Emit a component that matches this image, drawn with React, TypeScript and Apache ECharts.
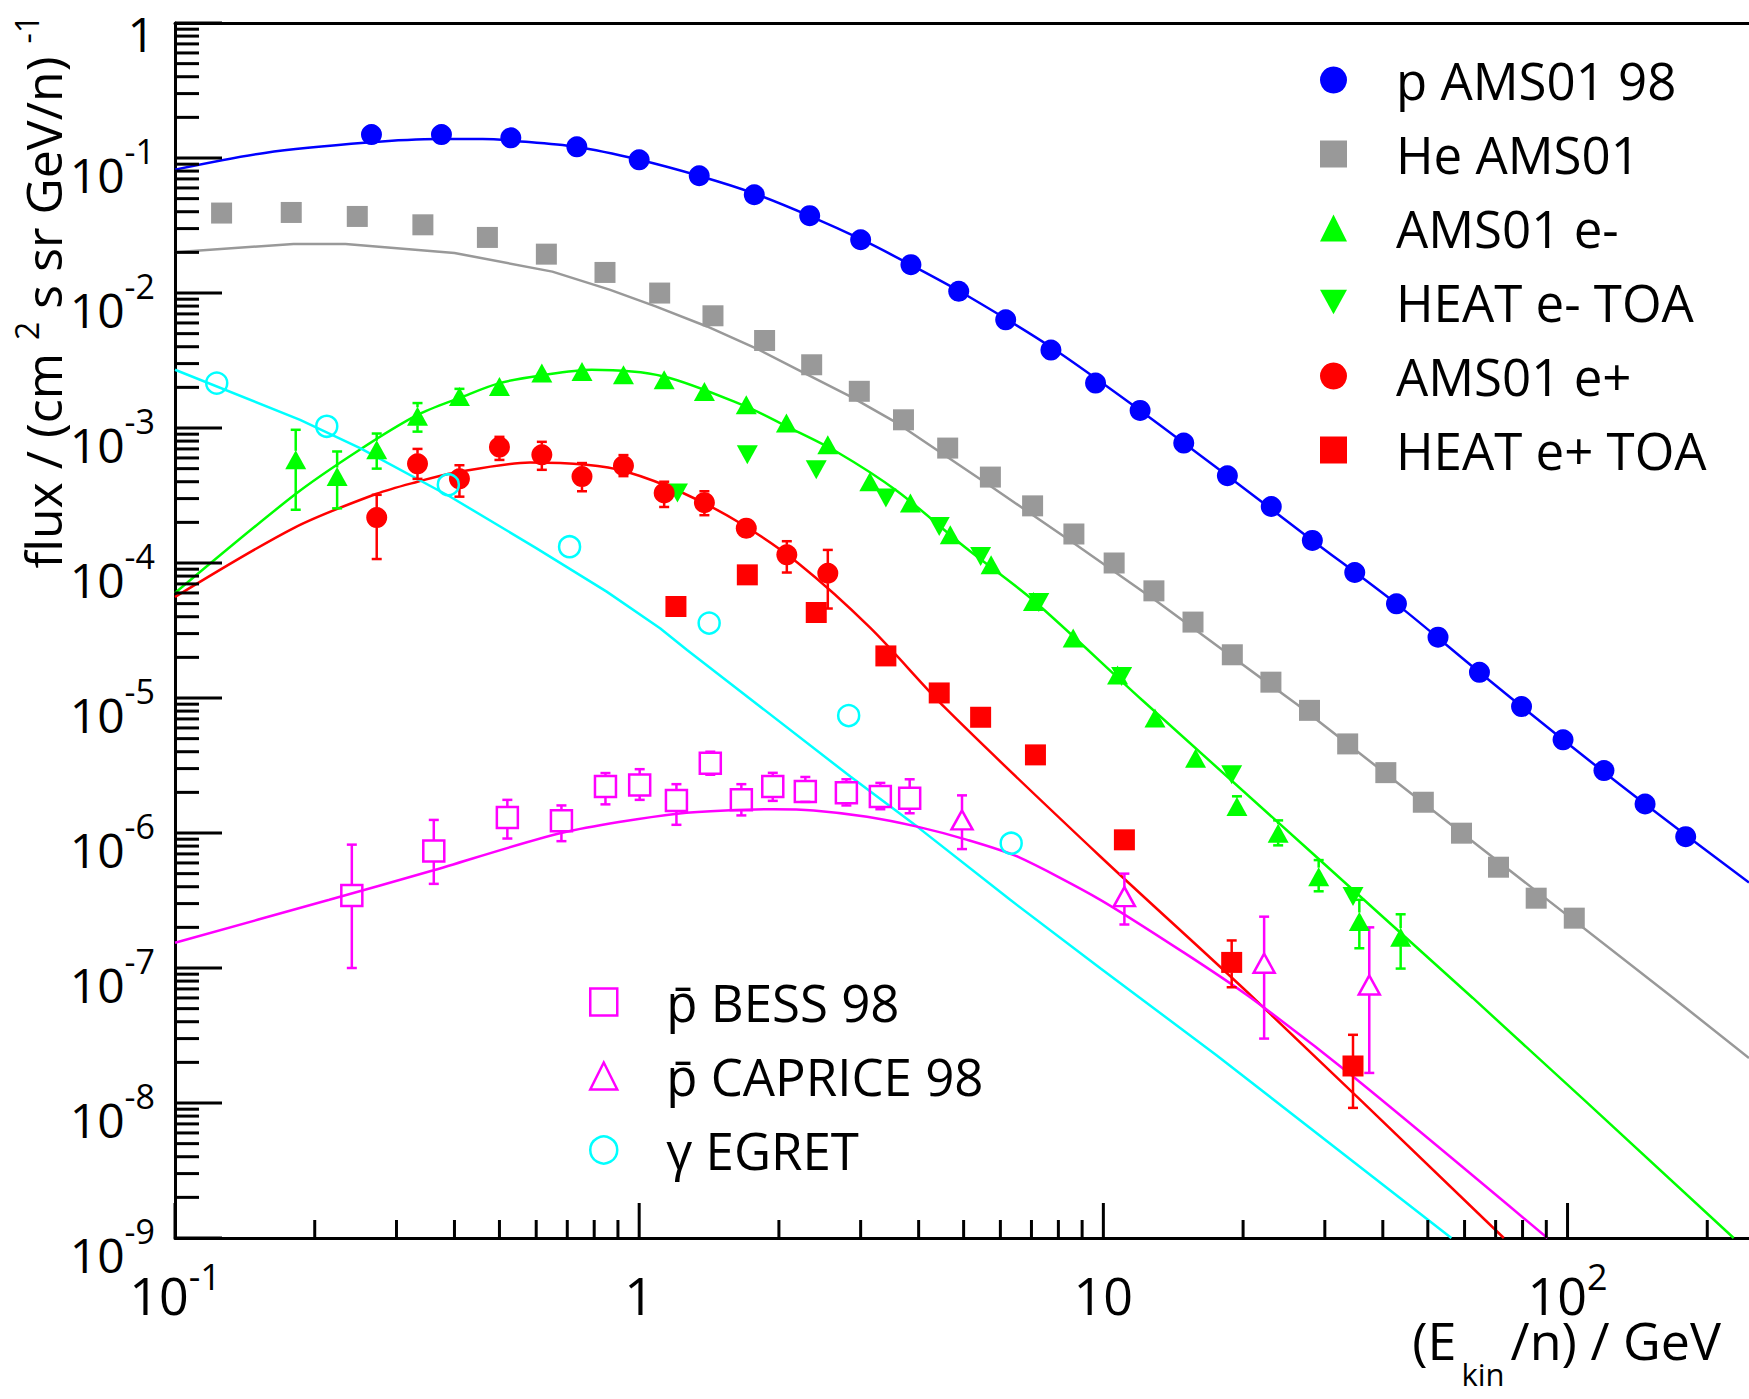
import React, { useEffect, useRef } from "react";
import * as echarts from "echarts";

const FONT = "'Open Sans', 'Noto Sans', 'DejaVu Sans', sans-serif";

// ---------- data points ----------
// p AMS01 98
const pE = [0.265, 0.375, 0.529, 0.734, 1.0, 1.347, 1.77, 2.33, 3.0, 3.85, 4.88, 6.16, 7.71, 9.62, 12.0, 14.9, 18.5, 23.0, 28.2, 34.8, 42.8, 52.6, 64.6, 79.6, 97.8, 119.8, 146.9, 179.7];
const pF = [0.149, 0.149, 0.141, 0.121, 0.097, 0.0739, 0.0534, 0.0374, 0.0248, 0.0162, 0.0103, 0.00633, 0.00378, 0.00215, 0.00135, 7.73e-4, 4.43e-4, 2.62e-4, 1.47e-4, 8.5e-5, 4.98e-5, 2.82e-5, 1.55e-5, 8.64e-6, 4.9e-6, 2.9e-6, 1.64e-6, 9.4e-7];

// He AMS01
const heE = [0.126, 0.178, 0.247, 0.342, 0.471, 0.631, 0.844, 1.107, 1.442, 1.863, 2.353, 2.98, 3.71, 4.62, 5.71, 7.04, 8.64, 10.55, 12.85, 15.6, 18.96, 22.96, 27.8, 33.6, 40.6, 48.9, 59.1, 71.0, 85.6, 103.4];
const heF = [0.0391, 0.0395, 0.0369, 0.032, 0.0258, 0.0194, 0.0142, 0.00999, 0.00678, 0.00445, 0.00294, 0.00187, 0.00115, 7.1e-4, 4.33e-4, 2.65e-4, 1.64e-4, 1.0e-4, 6.22e-5, 3.65e-5, 2.09e-5, 1.31e-5, 8.1e-6, 4.57e-6, 2.8e-6, 1.69e-6, 9.97e-7, 5.58e-7, 3.29e-7, 2.34e-7];

// AMS01 e-
const emE = [0.182, 0.2235, 0.272, 0.333, 0.41, 0.5, 0.617, 0.753, 0.925, 1.132, 1.382, 1.701, 2.076, 2.549, 3.14, 3.84, 4.68, 5.73, 7.07, 8.61, 10.73, 12.92, 15.8, 19.4, 23.8, 29.1, 35.6, 43.7];
const emF = [5.81e-4, 4.37e-4, 6.9e-4, 1.22e-3, 1.71e-3, 2.03e-3, 2.55e-3, 2.62e-3, 2.48e-3, 2.28e-3, 1.865e-3, 1.486e-3, 1.087e-3, 7.51e-4, 4.0e-4, 2.78e-4, 1.62e-4, 9.7e-5, 5.18e-5, 2.78e-5, 1.48e-5, 7.1e-6, 3.58e-6, 1.57e-6, 9.97e-7, 4.75e-7, 2.21e-7, 1.69e-7];
const emLo = [2.48e-4, 2.54e-4, 5.0e-4, 9.4e-4, 1.5e-3, null, null, null, null, null, null, null, null, null, null, null, null, null, null, null, null, null, null, 1.37e-6, 8.1e-7, 3.7e-7, 1.4e-7, 9.9e-8];
const emHi = [9.7e-4, 6.7e-4, 9.1e-4, 1.53e-3, 1.95e-3, null, null, null, null, null, null, null, null, null, null, null, null, null, null, null, null, null, null, 1.87e-6, 1.24e-6, 6.3e-7, 3.2e-7, 2.5e-7];

// HEAT e- TOA
const heatEmE = [1.209, 1.71, 2.407, 3.4, 4.43, 5.44, 7.26, 10.95, 18.9, 34.5];
const heatEmF = [3.3e-4, 6.33e-4, 4.9e-4, 3.03e-4, 1.86e-4, 1.117e-4, 5.1e-5, 1.44e-5, 2.7e-6, 3.38e-7];

// AMS01 e+
const epE = [0.272, 0.333, 0.41, 0.5, 0.617, 0.753, 0.925, 1.132, 1.382, 1.701, 2.08, 2.549];
const epF = [2.17e-4, 5.43e-4, 4.2e-4, 7.22e-4, 6.33e-4, 4.37e-4, 5.25e-4, 3.3e-4, 2.8e-4, 1.81e-4, 1.15e-4, 8.4e-5];
const epLo = [1.07e-4, 4.2e-4, 3.1e-4, 5.8e-4, 4.9e-4, 3.4e-4, 4.4e-4, 2.6e-4, 2.26e-4, 1.65e-4, 8.5e-5, 4.6e-5];
const epHi = [3.2e-4, 7.0e-4, 5.3e-4, 8.6e-4, 7.9e-4, 5.5e-4, 6.3e-4, 4.0e-4, 3.4e-4, 1.98e-4, 1.45e-4, 1.25e-4];

// HEAT e+ TOA
const heatEpE = [1.2, 1.71, 2.407, 3.4, 4.43, 5.44, 7.14, 11.1, 18.9, 34.5];
const heatEpF = [4.76e-5, 8.17e-5, 4.3e-5, 2.05e-5, 1.09e-5, 7.2e-6, 3.79e-6, 8.9e-7, 1.1e-7, 1.88e-8];
const heatEpLo = [null, null, null, null, null, null, null, null, 7.2e-8, 9.2e-9];
const heatEpHi = [null, null, null, null, null, null, null, null, 1.6e-7, 3.2e-8];

// pbar BESS 98
const bessE = [0.2404, 0.361, 0.52, 0.68, 0.846, 1.0025, 1.203, 1.423, 1.66, 1.94, 2.28, 2.795, 3.308, 3.826];
const bessF = [3.44e-7, 7.37e-7, 1.3e-6, 1.23e-6, 2.21e-6, 2.27e-6, 1.74e-6, 3.29e-6, 1.76e-6, 2.21e-6, 2.03e-6, 1.99e-6, 1.86e-6, 1.81e-6];
const bessLo = [1.0e-7, 4.2e-7, 9.1e-7, 8.7e-7, 1.63e-6, 1.76e-6, 1.15e-6, 2.7e-6, 1.35e-6, 1.73e-6, 1.7e-6, 1.6e-6, 1.5e-6, 1.4e-6];
const bessHi = [8.2e-7, 1.25e-6, 1.76e-6, 1.6e-6, 2.78e-6, 2.97e-6, 2.3e-6, 4.0e-6, 2.3e-6, 2.79e-6, 2.6e-6, 2.5e-6, 2.35e-6, 2.5e-6];

// pbar CAPRICE 98
const capE = [4.96, 11.1, 22.2, 37.4];
const capF = [1.25e-6, 3.38e-7, 1.085e-7, 7.49e-8];
const capLo = [7.6e-7, 2.1e-7, 3.0e-8, 1.67e-8];
const capHi = [1.9e-6, 5.0e-7, 2.4e-7, 2.0e-7];

// gamma EGRET
const egE = [0.123, 0.2123, 0.388, 0.708, 1.415, 2.827, 6.33];
const egF = [2.15e-3, 1.03e-3, 3.8e-4, 1.32e-4, 3.59e-5, 7.41e-6, 8.4e-7];

// ---------- model curves ----------
const pModE = [0.1, 0.156, 0.26, 0.37, 0.46, 0.55, 0.73, 1.0, 1.36, 1.76, 2.34, 3.02, 3.91, 5.05, 7.69, 12, 18.5, 28.2, 42.8, 64.6, 97.8, 146.9, 246];
const pModF = [0.082, 0.109, 0.13, 0.138, 0.138, 0.133, 0.121, 0.097, 0.073, 0.055, 0.037, 0.0248, 0.0157, 0.0097, 0.004, 0.00135, 4.43e-4, 1.47e-4, 4.98e-5, 1.55e-5, 4.9e-6, 1.64e-6, 4.29e-7];

const heModE = [0.1, 0.18, 0.233, 0.4, 0.65, 0.863, 1.085, 1.4, 1.81, 2.27, 2.855, 3.59, 5.73, 8.64, 13.05, 18.9, 26.2, 169, 246];
const heModF = [0.02, 0.0231, 0.0231, 0.0198, 0.0144, 0.0106, 0.00795, 0.00565, 0.0038, 0.00255, 0.00171, 0.00109, 3.69e-4, 1.4e-4, 5.18e-5, 2.03e-5, 8.9e-6, 6.0e-8, 2.15e-8];

const emModE = [0.1, 0.181, 0.25, 0.333, 0.412, 0.5, 0.614, 0.79, 1.13, 1.701, 2.076, 2.657, 3.6, 5.06, 7.04, 12.1, 62.5, 228];
const emModF = [6.0e-5, 3.2e-4, 6.9e-4, 1.25e-3, 1.68e-3, 2.15e-3, 2.45e-3, 2.7e-3, 2.41e-3, 1.44e-3, 1.03e-3, 6.7e-4, 3.4e-4, 1.29e-4, 5.34e-5, 9.7e-6, 6.0e-8, 1.0e-9];

const epModE = [0.1, 0.181, 0.272, 0.333, 0.398, 0.582, 0.769, 0.935, 1.243, 1.652, 2.198, 3.152, 4.57, 9.85, 21.06, 72.9];
const epModF = [5.6e-5, 1.83e-4, 3.26e-4, 4.0e-4, 4.65e-4, 5.55e-4, 5.34e-4, 4.76e-4, 3.3e-4, 1.97e-4, 1.0e-4, 3.29e-5, 8.4e-6, 6.7e-7, 6.0e-8, 1.0e-9];

const gModE = [0.1, 0.186, 0.2505, 0.391, 0.6, 0.851, 1.109, 1.268, 2.851, 3.97, 6.3, 9.85, 17.5, 56.2];
const gModF = [2.7e-3, 1.15e-3, 7.1e-4, 3.11e-4, 1.29e-4, 6.14e-5, 3.29e-5, 2.27e-5, 2.62e-6, 1.115e-6, 3.2e-7, 9.96e-8, 2.27e-8, 1.0e-9];

const pbModE = [0.1, 0.215, 0.359, 0.679, 1.207, 1.949, 2.376, 3.097, 3.97, 5.09, 6.52, 9.85, 14.86, 20.6, 34.5, 90.5];
const pbModF = [1.54e-7, 3.2e-7, 5.27e-7, 1.0e-6, 1.39e-6, 1.5e-6, 1.47e-6, 1.32e-6, 1.115e-6, 8.9e-7, 6.7e-7, 3.2e-7, 1.31e-7, 6.14e-8, 1.57e-8, 1.0e-9];

// ---------- axes ----------
const X_MIN = 0.1;
const X_MAX = 246;
const Y_MIN = 1e-9;
const Y_MAX = 1;
const X_MAJOR = [0.1, 1, 10, 100];
const Y_MAJOR = [1e-9, 1e-8, 1e-7, 1e-6, 1e-5, 1e-4, 1e-3, 1e-2, 1e-1, 1];
const MINOR_MULT = [2, 3, 4, 5, 6, 7, 8, 9];

const BLUE = "#0000ff";
const GRAY = "#999999";
const GREEN = "#00ff00";
const RED = "#ff0000";
const MAGENTA = "#ff00ff";
const CYAN = "#00ffff";

const zip = (xs: number[], ys: number[]) => xs.map((x, i) => [x, ys[i]]);
const errZip = (xs: number[], ys: number[], lo: (number | null)[], hi: (number | null)[]) =>
  xs.map((x, i) => [x, ys[i], lo[i], hi[i]]).filter((d) => d[2] != null);

function expLabel(v: number, big: string, sup: string, one: string) {
  const l = Math.log10(v);
  const e = Math.round(l);
  if (Math.abs(l - e) > 1e-6) return "";
  if (e === 0) return `{${one}|1}`;
  if (e === 1) return `{${big}|10}`;
  return `{${big}|10}{${sup}|${e}}`;
}

function lineSeries(name: string, xs: number[], ys: number[], color: string, smooth: number | boolean) {
  return {
    name,
    type: "line",
    data: zip(xs, ys),
    symbol: "none",
    smooth,
    clip: true,
    silent: true,
    lineStyle: { color, width: 2.5 },
    z: 2,
  };
}

function errSeries(data: any[], color: string, half: number) {
  return {
    type: "custom",
    silent: true,
    data,
    encode: { x: 0, y: 1 },
    z: 3,
    renderItem: (params: any, api: any) => {
      const x = api.value(0);
      const c = api.coord([x, api.value(1)]);
      const lo = api.coord([x, api.value(2)]);
      const hi = api.coord([x, api.value(3)]);
      const style = { stroke: color, lineWidth: 2.5 };
      const ch: any[] = [];
      if (hi[1] < c[1] - half) ch.push({ type: "line", shape: { x1: c[0], y1: hi[1], x2: c[0], y2: c[1] - half }, style });
      if (lo[1] > c[1] + half) ch.push({ type: "line", shape: { x1: c[0], y1: c[1] + half, x2: c[0], y2: lo[1] }, style });
      ch.push({ type: "line", shape: { x1: c[0] - 5, y1: hi[1], x2: c[0] + 5, y2: hi[1] }, style });
      ch.push({ type: "line", shape: { x1: c[0] - 5, y1: lo[1], x2: c[0] + 5, y2: lo[1] }, style });
      return { type: "group", children: ch };
    },
  };
}

function scatter(name: string, xs: number[], ys: number[], symbol: string, size: any, itemStyle: any) {
  return {
    name,
    type: "scatter",
    data: zip(xs, ys),
    symbol,
    symbolSize: size,
    itemStyle: { opacity: 1, ...itemStyle },
    silent: true,
    z: 4,
  };
}

const DOWN_TRI = "path://M0,0L20,0L10,18Z";
const OPEN = (c: string) => ({ color: "rgba(0,0,0,0)", borderColor: c, borderWidth: 2.5 });

export default function App() {
  const ref = useRef<HTMLDivElement>(null);
  useEffect(() => {
    if (!ref.current) return;
    const chart = echarts.init(ref.current, null, { renderer: "svg" });

    const yTicks: number[][] = [];
    Y_MAJOR.forEach((m, i) => {
      yTicks.push([X_MIN, m, 1]);
      if (i < Y_MAJOR.length - 1) MINOR_MULT.forEach((k) => yTicks.push([X_MIN, k * m, 0]));
    });
    const xTicks: number[][] = [];
    X_MAJOR.forEach((m) => {
      xTicks.push([m, Y_MIN, 1]);
      MINOR_MULT.forEach((k) => {
        if (k * m <= X_MAX) xTicks.push([k * m, Y_MIN, 0]);
      });
    });

    const axisLine = { show: true, lineStyle: { color: "#000", width: 3 } };
    const legendText = { fontSize: 51, fontFamily: FONT, color: "#000", lineHeight: 52, padding: [0, 0, 0, 44] };

    const option: any = {
      animation: false,
      backgroundColor: "#fff",
      textStyle: { fontFamily: FONT },
      grid: { left: 175, right: 0, top: 23, bottom: 161, containLabel: false, outerBoundsMode: "none" },
      xAxis: [
        {
          type: "log",
          logBase: 10,
          min: X_MIN,
          max: X_MAX,
          axisLine,
          axisTick: { show: false },
          splitLine: { show: false },
          minorTick: { show: false },
          axisLabel: {
            margin: 18,
            color: "#000",
            fontFamily: FONT,
            formatter: (v: number) => expLabel(v, "bx", "sx", "bx"),
            rich: {
              bx: { fontSize: 52, fontFamily: FONT, color: "#000", lineHeight: 44, padding: [33, 0, 0, 0] },
              sx: { fontSize: 36, fontFamily: FONT, color: "#000", lineHeight: 38, padding: [18, 0, 21, 0] },
            },
          },
        },
        {
          type: "log",
          logBase: 10,
          min: X_MIN,
          max: X_MAX,
          position: "top",
          axisLine,
          axisTick: { show: false },
          axisLabel: { show: false },
          splitLine: { show: false },
        },
      ],
      yAxis: {
        type: "log",
        logBase: 10,
        min: Y_MIN,
        max: Y_MAX,
        axisLine,
        axisTick: { show: false },
        splitLine: { show: false },
        minorTick: { show: false },
        axisLabel: {
          margin: 20,
          color: "#000",
          fontFamily: FONT,
          formatter: (v: number) => expLabel(v, "b", "s", "one"),
          rich: {
            b: { fontSize: 48, fontFamily: FONT, color: "#000", lineHeight: 40, padding: [33, 0, 0, 0] },
            s: { fontSize: 34, fontFamily: FONT, color: "#000", lineHeight: 36, padding: [11, 0, 26, 0] },
            one: { fontSize: 48, fontFamily: FONT, color: "#000", lineHeight: 40, padding: [32, 0, 11, 0] },
          },
        },
      },
      legend: [
        {
          orient: "vertical",
          left: 1320,
          top: 54,
          padding: 0,
          itemWidth: 27,
          itemHeight: 27,
          itemGap: 22,
          selectedMode: false,
          textStyle: legendText,
          data: [
            { name: "p AMS01 98", icon: "circle" },
            { name: "He AMS01", icon: "rect" },
            { name: "AMS01 e-", icon: "triangle" },
            { name: "HEAT e- TOA", icon: DOWN_TRI },
            { name: "AMS01 e+", icon: "circle" },
            { name: "HEAT e+ TOA", icon: "rect" },
          ],
        },
        {
          orient: "vertical",
          left: 589,
          top: 976,
          padding: 0,
          itemWidth: 27,
          itemHeight: 27,
          itemGap: 22,
          selectedMode: false,
          textStyle: legendText,
          data: [
            { name: "p\u0304 BESS 98", icon: "rect", itemStyle: OPEN(MAGENTA) },
            { name: "p\u0304 CAPRICE 98", icon: "triangle", itemStyle: OPEN(MAGENTA) },
            { name: "\u03b3 EGRET", icon: "circle", itemStyle: OPEN(CYAN) },
          ],
        },
      ],
      graphic: [
        {
          type: "text",
          x: 43,
          y: 15,
          rotation: Math.PI / 2,
          silent: true,
          style: {
            text: "flux / (cm {s|2} s sr GeV/n) {s|-1}",
            fontSize: 50,
            fontFamily: FONT,
            fill: "#000",
            align: "right",
            verticalAlign: "middle",
            rich: { s: { fontSize: 32, fontFamily: FONT, fill: "#000", lineHeight: 32, padding: [0, 0, 33, 0] } },
          },
        },
        {
          type: "text",
          x: 1721,
          y: 1313,
          silent: true,
          style: {
            text: "(E{sub|kin}/n) / GeV",
            fontSize: 52,
            fontFamily: FONT,
            fill: "#000",
            align: "right",
            verticalAlign: "top",
            rich: { sub: { fontSize: 31, fontFamily: FONT, fill: "#000", lineHeight: 31, padding: [70, 6, 0, 5] } },
          },
        },
      ],
      series: [
        lineSeries("p model", pModE, pModF, BLUE, 0.3),
        lineSeries("He model", heModE, heModF, GRAY, false),
        lineSeries("e- model", emModE, emModF, GREEN, 0.3),
        lineSeries("e+ model", epModE, epModF, RED, 0.3),
        lineSeries("gamma model", gModE, gModF, CYAN, false),
        lineSeries("pbar model", pbModE, pbModF, MAGENTA, 0.25),
        errSeries(errZip(emE, emF, emLo, emHi), GREEN, 9),
        errSeries(errZip(epE, epF, epLo, epHi), RED, 10),
        errSeries(errZip(heatEpE, heatEpF, heatEpLo, heatEpHi), RED, 10),
        errSeries(errZip(bessE, bessF, bessLo, bessHi), MAGENTA, 10.5),
        errSeries(errZip(capE, capF, capLo, capHi), MAGENTA, 9.5),
        scatter("p AMS01 98", pE, pF, "circle", 21, { color: BLUE }),
        scatter("He AMS01", heE, heF, "rect", 21, { color: GRAY }),
        scatter("AMS01 e-", emE, emF, "triangle", [21, 19], { color: GREEN }),
        scatter("HEAT e- TOA", heatEmE, heatEmF, DOWN_TRI, [21, 19], { color: GREEN }),
        scatter("AMS01 e+", epE, epF, "circle", 21, { color: RED }),
        scatter("HEAT e+ TOA", heatEpE, heatEpF, "rect", 21, { color: RED }),
        scatter("p\u0304 BESS 98", bessE, bessF, "rect", 21, OPEN(MAGENTA)),
        scatter("p\u0304 CAPRICE 98", capE, capF, "triangle", [21, 19], OPEN(MAGENTA)),
        scatter("\u03b3 EGRET", egE, egF, "circle", 21, OPEN(CYAN)),
        {
          type: "custom",
          silent: true,
          data: yTicks,
          encode: { x: 0, y: 1 },
          z: 10,
          renderItem: (params: any, api: any) => {
            const p = api.coord([api.value(0), api.value(1)]);
            const len = api.value(2) ? 47 : 24;
            return { type: "line", shape: { x1: p[0], y1: p[1], x2: p[0] + len, y2: p[1] }, style: { stroke: "#000", lineWidth: 3 } };
          },
        },
        {
          type: "custom",
          silent: true,
          data: xTicks,
          encode: { x: 0, y: 1 },
          z: 10,
          renderItem: (params: any, api: any) => {
            const p = api.coord([api.value(0), api.value(1)]);
            const len = api.value(2) ? 35 : 18;
            return { type: "line", shape: { x1: p[0], y1: p[1], x2: p[0], y2: p[1] - len }, style: { stroke: "#000", lineWidth: 3 } };
          },
        },
      ],
    };

    chart.setOption(option);
    return () => chart.dispose();
  }, []);

  return (
    <div
      ref={ref}
      style={{ position: "fixed", left: 0, top: 0, width: 1749, height: 1399, background: "#fff" }}
    />
  );
}
